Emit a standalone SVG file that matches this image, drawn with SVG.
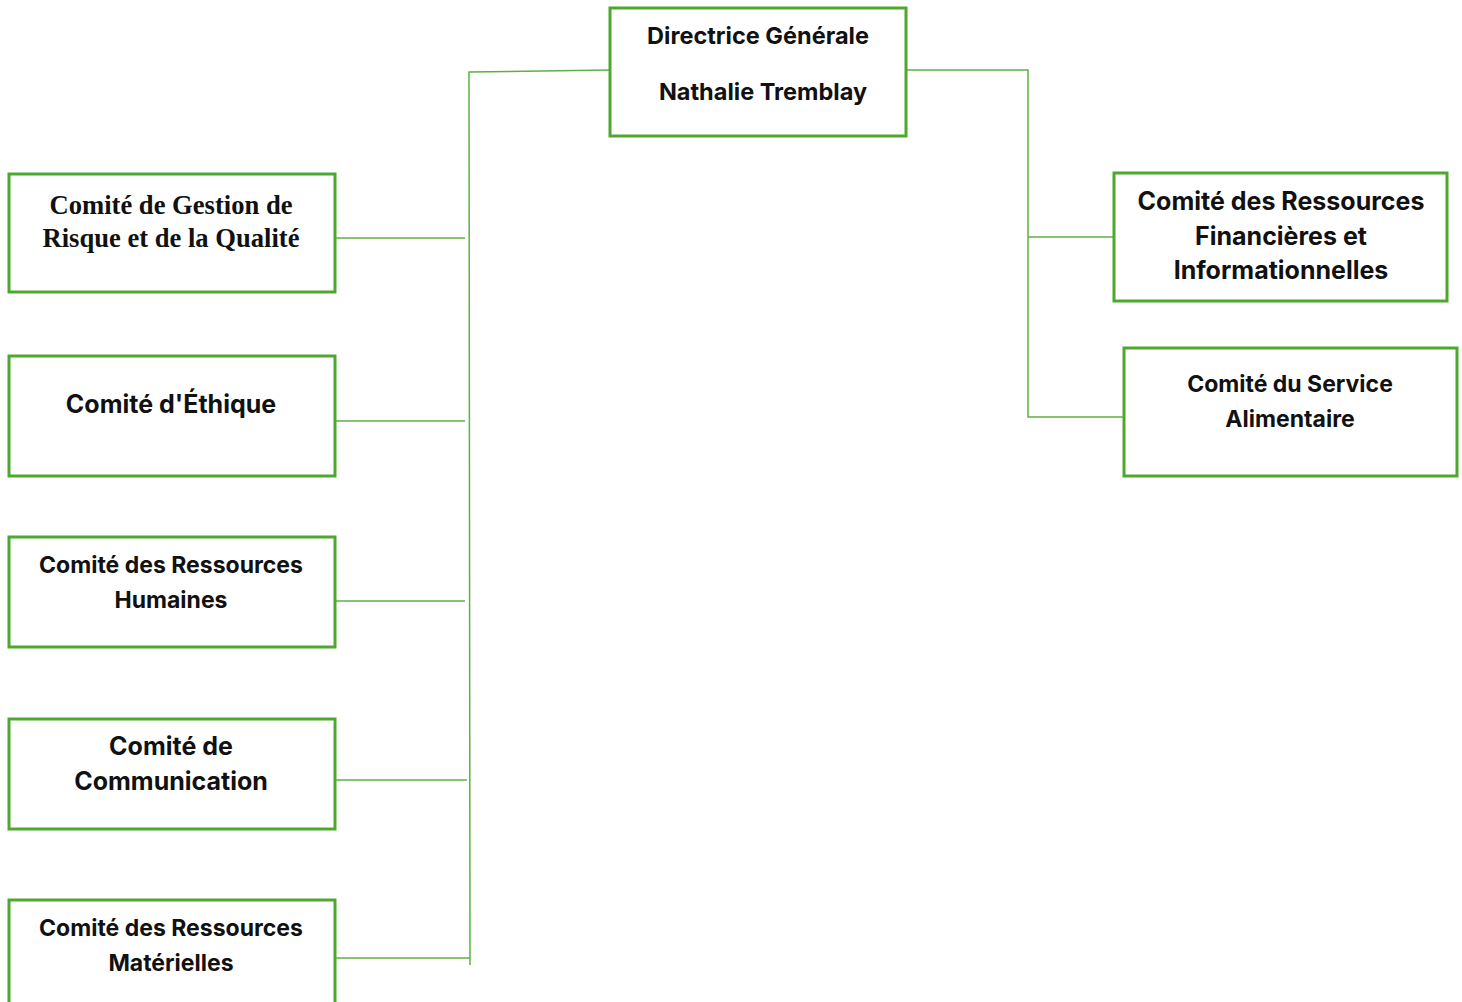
<svg xmlns="http://www.w3.org/2000/svg" width="1462" height="1002" viewBox="0 0 1462 1002">
<style>
.box{fill:#fff;stroke:#4ea72e;stroke-width:3}
.ln{fill:none;stroke:#5fb042;stroke-width:1.5}
.t{font-family:Inter,"Open Sans",sans-serif;font-weight:700;font-size:23px;fill:#111;text-anchor:middle}
.b{font-size:25px}
.s{font-family:"Liberation Serif",serif;font-weight:700;font-size:26.6px;fill:#111;text-anchor:middle}
</style>
<rect width="1462" height="1002" fill="#fff"/>
<g id="connectors">
<polyline class="ln" points="610,70 469,72 470,965"/>
<line class="ln" x1="335" y1="238" x2="465" y2="238"/>
<line class="ln" x1="335" y1="421" x2="465" y2="421"/>
<line class="ln" x1="335" y1="601" x2="465" y2="601"/>
<line class="ln" x1="335" y1="780" x2="467" y2="780"/>
<line class="ln" x1="335" y1="958" x2="470" y2="958"/>
<polyline class="ln" points="906,70 1028,70 1028,417 1123,417"/>
<line class="ln" x1="1028" y1="237" x2="1114" y2="237"/>
</g>
<g id="dg">
<rect class="box" x="610" y="8" width="296" height="128"/>
<text class="t" x="758" y="44" style="font-size:23.5px">Directrice Générale</text>
<text class="t" x="763" y="100" style="font-size:23.5px">Nathalie Tremblay</text>
</g>
<g id="risque">
<rect class="box" x="9" y="174" width="326" height="118"/>
<text class="s" x="171" y="214">Comité de Gestion de</text>
<text class="s" x="171" y="247">Risque et de la Qualité</text>
</g>
<g id="ethique">
<rect class="box" x="9" y="356" width="326" height="120"/>
<text class="t b" x="171" y="413">Comité d'Éthique</text>
</g>
<g id="rh">
<rect class="box" x="9" y="537" width="326" height="110"/>
<text class="t" x="171" y="573">Comité des Ressources</text>
<text class="t" x="171" y="608">Humaines</text>
</g>
<g id="comm">
<rect class="box" x="9" y="719" width="326" height="110"/>
<text class="t b" x="171" y="755">Comité de</text>
<text class="t b" x="171" y="790">Communication</text>
</g>
<g id="rm">
<rect class="box" x="9" y="900" width="326" height="110"/>
<text class="t" x="171" y="936">Comité des Ressources</text>
<text class="t" x="171" y="971">Matérielles</text>
</g>
<g id="rfi">
<rect class="box" x="1114" y="173" width="333" height="128"/>
<text class="t b" x="1281" y="210">Comité des Ressources</text>
<text class="t b" x="1281" y="245">Financières et</text>
<text class="t b" x="1281" y="279">Informationnelles</text>
</g>
<g id="alim">
<rect class="box" x="1124" y="348" width="333" height="128"/>
<text class="t" x="1290" y="392">Comité du Service</text>
<text class="t" x="1290" y="427">Alimentaire</text>
</g>
</svg>
